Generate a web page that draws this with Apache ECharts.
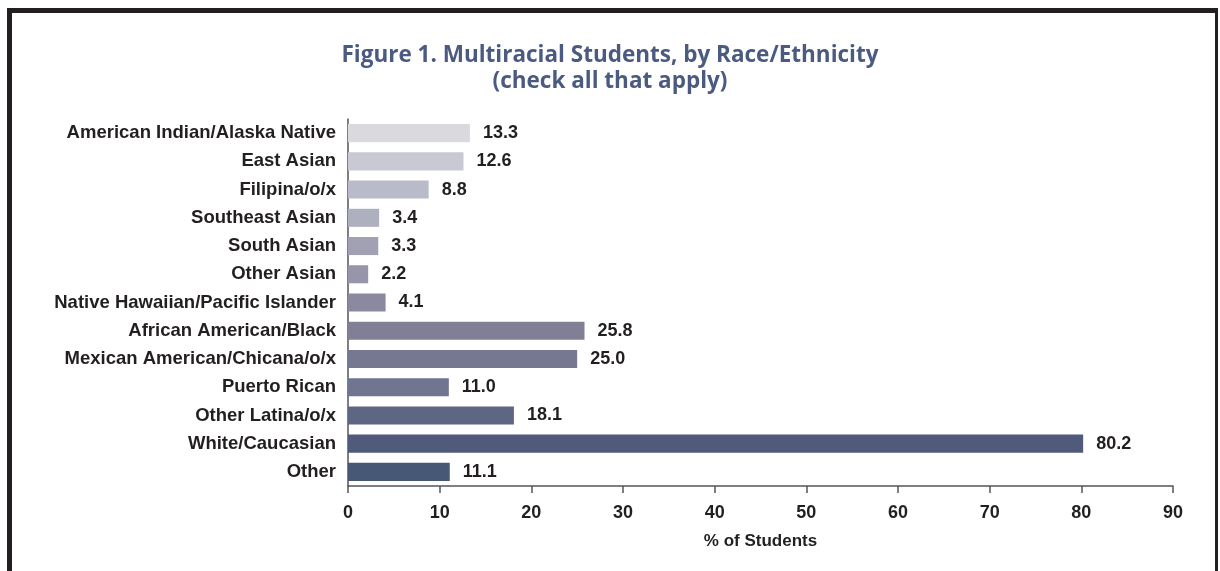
<!DOCTYPE html>
<html>
<head>
<meta charset="utf-8">
<script src="https://cdn.jsdelivr.net/npm/echarts@6/dist/echarts.min.js"></script>
<style>
  html, body { margin: 0; padding: 0; background: #fff; }
  #main { width: 1220px; height: 571px; }
</style>
</head>
<body>
<div id="main"></div>
<script>
const categories = [
  'American Indian/Alaska Native', 'East Asian', 'Filipina/o/x', 'Southeast Asian',
  'South Asian', 'Other Asian', 'Native Hawaiian/Pacific Islander', 'African American/Black',
  'Mexican American/Chicana/o/x', 'Puerto Rican', 'Other Latina/o/x', 'White/Caucasian', 'Other'
];
const values = [13.3, 12.6, 8.8, 3.4, 3.3, 2.2, 4.1, 25.8, 25.0, 11.0, 18.1, 80.2, 11.1];
const barColors = [
  '#d9d9de', '#c9c9d4', '#b9bbca', '#aeafbf', '#a2a1b3', '#9695aa', '#8b89a0',
  '#807f96', '#767891', '#717690', '#5f6683', '#505b7b', '#465875'
];

const textColor = '#231f20';
const font = '"Liberation Sans", Arial, sans-serif';

const myChart = echarts.init(document.getElementById('main'));

const option = {
  animation: false,
  title: {
    text: 'Figure 1. Multiracial Students, by Race/Ethnicity\n(check all that apply)',
    left: 'center',
    top: 38,
    textStyle: {
      color: '#4a5a80',
      fontFamily: '"Open Sans", "Noto Sans", sans-serif',
      fontWeight: 'bold',
      fontSize: 22.5,
      lineHeight: 26
    }
  },
  graphic: [
    { type: 'rect', shape: { x: 7, y: 8, width: 1211, height: 5 }, style: { fill: '#231f20' } },
    { type: 'rect', shape: { x: 7, y: 8, width: 5, height: 563 }, style: { fill: '#231f20' } },
    { type: 'rect', shape: { x: 1215, y: 8, width: 3, height: 563 }, style: { fill: '#231f20' } }
  ],
  grid: {
    left: 348,
    right: 47,
    top: 119,
    bottom: 85,
    containLabel: false
  },
  xAxis: {
    type: 'value',
    min: 0,
    max: 90,
    interval: 10,
    name: '% of Students',
    nameLocation: 'middle',
    nameGap: 47,
    nameTextStyle: { color: textColor, fontWeight: 'bold', fontSize: 17, fontFamily: font },
    axisLine: { show: true, lineStyle: { color: '#555', width: 1.5 } },
    axisTick: { show: true, length: 7, lineStyle: { color: '#555', width: 1.5 } },
    axisLabel: { color: textColor, fontWeight: 'bold', fontSize: 18, fontFamily: font, margin: 18 },
    splitLine: { show: false }
  },
  yAxis: {
    type: 'category',
    inverse: true,
    data: categories,
    axisLine: { show: true, lineStyle: { color: '#555', width: 1.5 } },
    axisTick: { show: false },
    axisLabel: { color: textColor, fontWeight: 'bold', fontSize: 18.5, fontFamily: font, margin: 12 }
  },
  series: [
    {
      type: 'bar',
      data: values.map((v, i) => ({ value: v, itemStyle: { color: barColors[i] } })),
      barCategoryGap: '36%',
      label: {
        show: true,
        position: 'right',
        distance: 13,
        color: textColor,
        fontWeight: 'bold',
        fontSize: 18,
        fontFamily: font,
        formatter: p => p.value.toFixed(1)
      }
    }
  ]
};

myChart.setOption(option);
</script>
</body>
</html>
